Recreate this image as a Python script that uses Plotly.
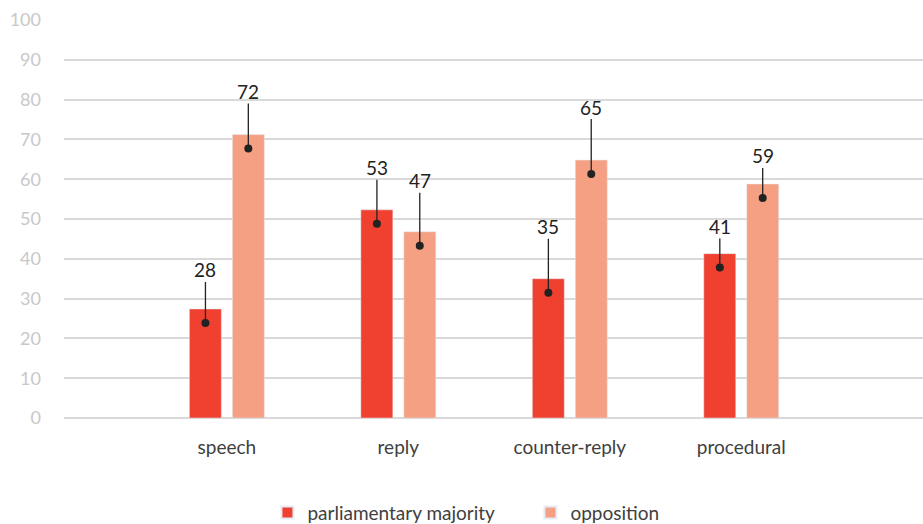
import plotly.graph_objects as go

categories = ["speech", "reply", "counter-reply", "procedural"]
majority = [27.4, 52.3, 35.0, 41.3]
opposition = [71.2, 46.8, 64.8, 58.8]
majority_labels = ["28", "53", "35", "41"]
opposition_labels = ["72", "47", "65", "59"]
y_ticks = [0, 10, 20, 30, 40, 50, 60, 70, 80, 90, 100]

# label offsets (pixels above dot) – style only
maj_offsets = [53, 56, 66, 41]
opp_offsets = [57, 65, 67, 42]
dot_depth = 3.5
bar_offset = 0.125
x_range = [-0.95, 4.06]

C_MAJ = "#F04030"
C_OPP = "#F5A083"
FONT = "Lato"

fig = go.Figure()
fig.add_trace(go.Bar(name="parliamentary majority", x=categories, y=majority,
                     marker_color=C_MAJ))
fig.add_trace(go.Bar(name="opposition", x=categories, y=opposition,
                     marker_color=C_OPP))

dx, dy = [], []
for i in range(len(categories)):
    for sign, vals, labs, offs in ((-1, majority, majority_labels, maj_offsets),
                                   (1, opposition, opposition_labels, opp_offsets)):
        x = i + sign * bar_offset
        y = vals[i] - dot_depth
        dx.append(x)
        dy.append(y)
        fig.add_annotation(x=x, y=y, xref="x2", yref="y", text=labs[i],
                           showarrow=True, arrowhead=0, arrowwidth=1.3,
                           arrowcolor="#222222", ax=0, ay=-offs[i],
                           standoff=0, borderpad=0,
                           font=dict(family=FONT, size=19, color="#222222"))

fig.add_trace(go.Scatter(x=dx, y=dy, mode="markers", showlegend=False,
                         xaxis="x2", yaxis="y",
                         marker=dict(color="#222222", size=8), hoverinfo="skip"))

fig.update_layout(
    width=923, height=524,
    margin=dict(l=64, r=0, t=20, b=106, autoexpand=False),
    plot_bgcolor="white", paper_bgcolor="white",
    barmode="group", bargap=0.4985, bargroupgap=0.256,
    font=dict(family=FONT, color="#404040"),
    legend=dict(orientation="h", x=0.543, xanchor="center", y=-0.19, yanchor="top",
                font=dict(family=FONT, size=19, color="#404040"),
                entrywidth=218, itemsizing="constant"),
    xaxis=dict(type="category", range=x_range, showgrid=False,
               showline=False, ticks="", zeroline=False, automargin=False,
               tickfont=dict(family=FONT, size=19, color="#404040"),
               ticklabelstandoff=16),
    xaxis2=dict(type="linear", range=x_range, overlaying="x", visible=False,
                showgrid=False, zeroline=False, automargin=False),
    yaxis=dict(range=[0, 100], tickvals=y_ticks, showgrid=True,
               gridcolor="#D9D9D9", gridwidth=1.5, zeroline=True,
               zerolinecolor="#D9D9D9", zerolinewidth=1.5, showline=False,
               automargin=False,
               ticks="", tickfont=dict(family=FONT, size=18, color="#C8C8C8"),
               ticklabelstandoff=22, fixedrange=True),
)

fig.write_html("out.html", config={"displayModeBar": False},
               post_script="document.body.style.margin='0';document.body.style.overflow='hidden';")
